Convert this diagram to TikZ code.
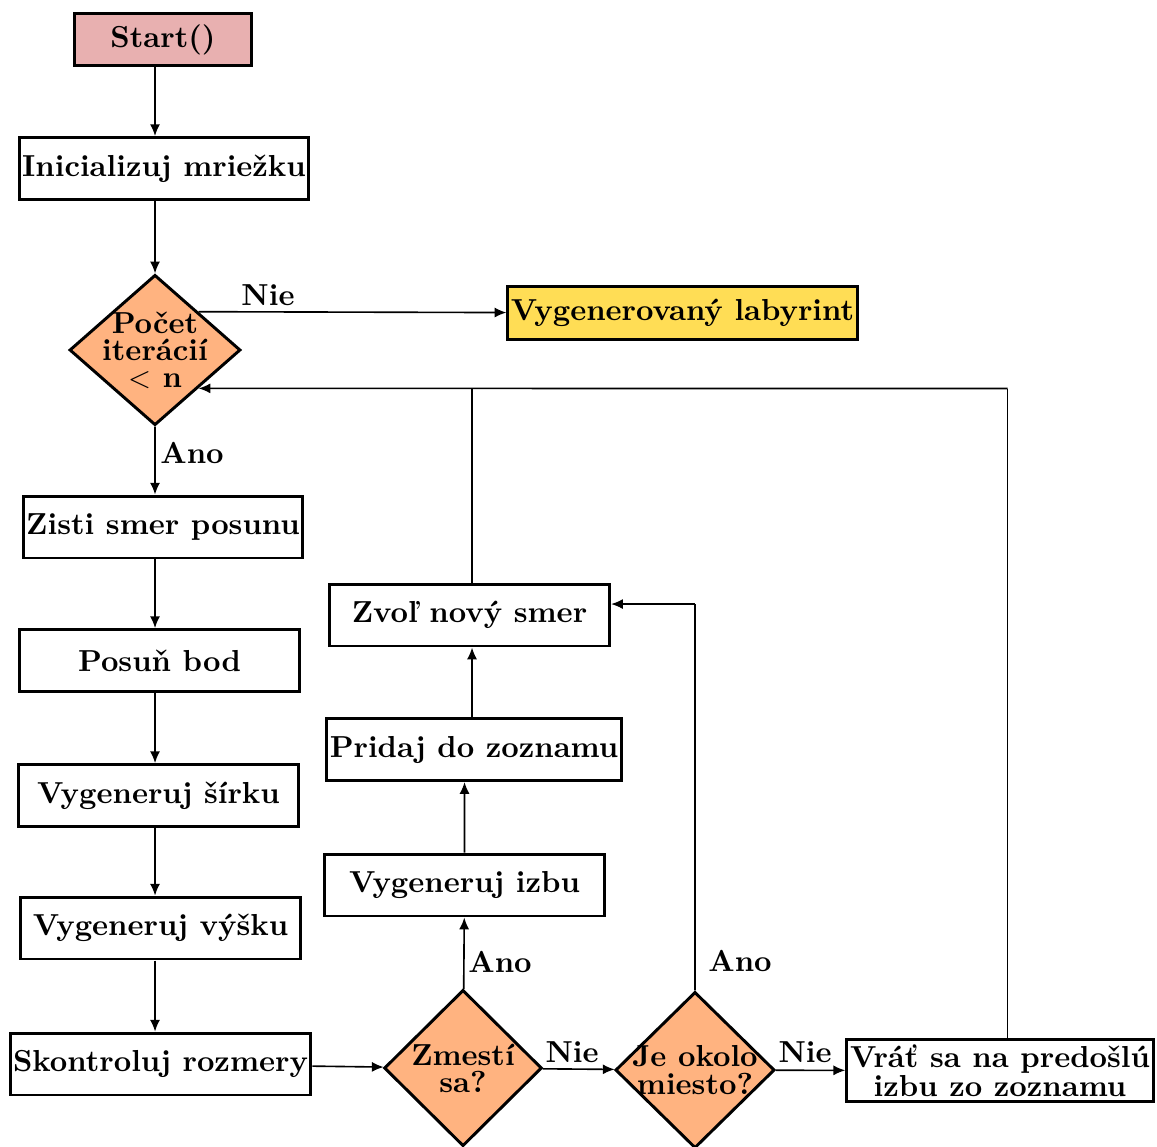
\documentclass[tikz,border=0pt]{standalone}
\usepackage{tikz}
\usetikzlibrary{shapes.geometric, arrows.meta}
\pgfdeclarelayer{edgelayer}
\pgfdeclarelayer{nodelayer}
\pgfsetlayers{edgelayer,nodelayer,main}
\definecolor{startfill}{RGB}{232,176,176}
\definecolor{decisionfill}{RGB}{255,179,128}
\definecolor{endfill}{RGB}{255,221,85}
\tikzstyle{box}=[rectangle, fill=white, draw=black, line width=1pt, font=\fontsize{10.3pt}{9.7pt}\bfseries, align=center, inner sep=1pt, minimum height=21pt]
\tikzstyle{process}=[box, minimum width=95pt]
\tikzstyle{startbox}=[box, fill=startfill, minimum width=60pt, minimum height=17.6pt]
\tikzstyle{endbox}=[box, fill=endfill, minimum width=118pt, minimum height=18pt]
\tikzstyle{decision}=[diamond, fill=decisionfill, draw=black, line width=1pt, font=\fontsize{10.3pt}{9.2pt}\bfseries, align=center, inner sep=-10pt, minimum width=53.5pt, minimum height=53pt]
\tikzstyle{edgelabel}=[font=\fontsize{10.3pt}{12pt}\bfseries, inner sep=0pt]
\tikzstyle{flow}=[draw=black, line width=0.55pt, -{Latex[length=4pt, width=3.4pt]}]
\tikzstyle{plain}=[draw=black, line width=0.55pt]

\begin{document}
\begin{tikzpicture}[scale=0.596]
	\useasboundingbox (0, 0) rectangle (23.14, -22.92);
	\begin{pgfonlayer}{nodelayer}
		\node [style=startbox] (0) at (3.26, -0.79) {Start()};
		\node [style=process, minimum width=98pt] (1) at (3.28, -3.37) {Inicializuj mriežku};
		\node [style=decision, minimum width=58pt, minimum height=51pt] (2) at (3.1, -7) {Počet\\iterácií\\$<$ n};
		\node [style=endbox] (3) at (13.65, -6.26) {Vygenerovaný labyrint};
		\node [style=process, minimum width=94.6pt] (4) at (3.26, -10.54) {Zisti smer posunu};
		\node [style=process] (5) at (3.19, -13.21) {Posuň bod};
		\node [style=process] (6) at (3.17, -15.91) {Vygeneruj šírku};
		\node [style=process] (7) at (3.21, -18.56) {Vygeneruj výšku};
		\node [style=process, minimum width=101pt] (8) at (3.21, -21.28) {Skontroluj rozmery};
		\node [style=decision] (9) at (9.26, -21.36) {Zmestí\\sa?};
		\node [style=decision, minimum width=54pt] (10) at (13.9, -21.4) {Je okolo\\miesto?};
		\node [style=process, minimum width=104pt] (11) at (20, -21.41) {Vráť sa na predošlú\\izbu zo zoznamu};
		\node [style=process] (12) at (9.29, -17.7) {Vygeneruj izbu};
		\node [style=process, minimum width=98.7pt] (13) at (9.48, -14.99) {Pridaj do zoznamu};
		\node [style=process] (14) at (9.39, -12.3) {Zvoľ nový smer};
		\coordinate (15) at (9.44, -7.77);
		\coordinate (16) at (20.15, -7.77);
		\coordinate (17) at (13.9, -12.08);
		\node [style=edgelabel] (18) at (5.36, -5.9) {Nie};
		\node [style=edgelabel] (19) at (3.84, -9.06) {Ano};
		\node [style=edgelabel] (20) at (10, -19.24) {Ano};
		\node [style=edgelabel] (21) at (11.44, -21.04) {Nie};
		\node [style=edgelabel] (22) at (14.8, -19.22) {Ano};
		\node [style=edgelabel] (23) at (16.1, -21.04) {Nie};
	\end{pgfonlayer}
	\begin{pgfonlayer}{edgelayer}
		\draw [style=flow] (0.south -| 2) to (1.north -| 2);
		\draw [style=flow] (1.south -| 2) to (2);
		\draw [style=flow] (2.north east) to (3);
		\draw [style=flow] (2) to (4.north -| 2);
		\draw [style=flow] (4.south -| 2) to (5.north -| 2);
		\draw [style=flow] (5.south -| 2) to (6.north -| 2);
		\draw [style=flow] (6.south -| 2) to (7.north -| 2);
		\draw [style=flow] (7.south -| 2) to (8.north -| 2);
		\draw [style=flow] (8) to (9);
		\draw [style=flow] (9) to (12);
		\draw [style=flow] (12) to (12 |- 13.south);
		\draw [style=flow] (13.north -| 15) to (15 |- 14.south);
		\draw [style=plain] (14.north -| 15) to (15);
		\draw [style=plain] (11.north -| 16) to (16);
		\draw [style=flow] (16) to (2.south east);
		\draw [style=flow] (9) to (10);
		\draw [style=plain] (10) to (17);
		\draw [style=flow] (17) to (14.east |- 17);
		\draw [style=flow] (10) to (11);
	\end{pgfonlayer}
\end{tikzpicture}
\end{document}
